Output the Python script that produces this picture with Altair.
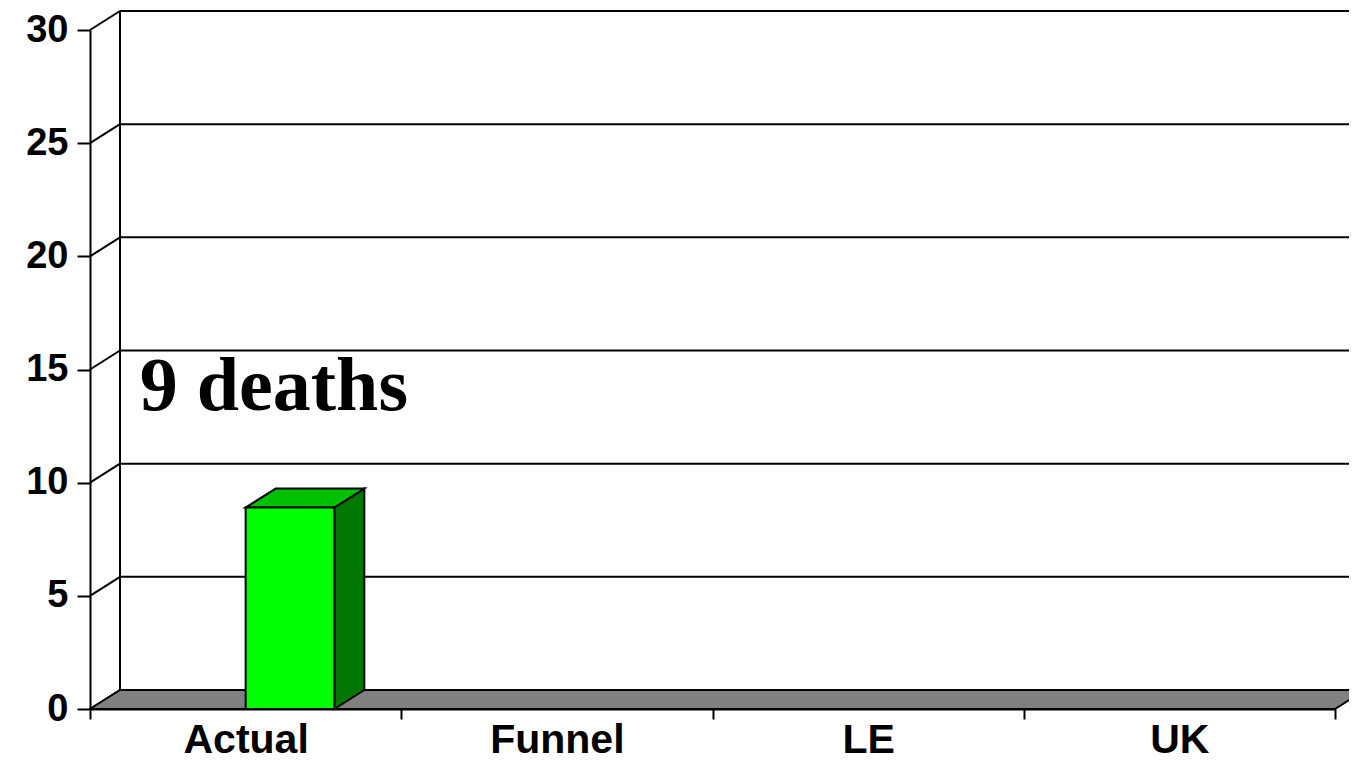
import altair as alt
import pandas as pd

# ---- data ----
categories = ["Actual", "Funnel", "LE", "UK"]
values = [8.9, 0, 0, 0]
y_ticks = [0, 5, 10, 15, 20, 25, 30]
annotation = "9 deaths"
annotation_pos = (0.16, 13.2)  # in data units (category index, value)

# ---- styling constants (3-D look) ----
W, H = 1245, 679
XMAX, YMAX = len(categories), 30
DX = 30 / (W / XMAX)      # depth offset in category units
DY = 19 / (H / YMAX)      # depth offset in value units
BAR_L, BAR_R = 0.5, 0.785  # bar front face within category

xs = alt.Scale(domain=[0, XMAX], nice=False, zero=False)
ys = alt.Scale(domain=[0, YMAX], nice=False, zero=False)

label_expr = " : ".join(
    f"datum.value == {i + 0.5} ? '{c}'" for i, c in enumerate(categories)
) + " : ''"

x_axis = alt.Axis(
    values=[k * 0.5 for k in range(2 * XMAX + 1)],
    labelExpr=label_expr, grid=False, domainColor="black", domainWidth=2,
    tickColor="black", tickWidth=2, tickSize=10,
    tickOpacity={"condition": {"test": "datum.value % 1 != 0", "value": 0}, "value": 1},
    labelFont="Liberation Sans", labelFontWeight="bold", labelFontSize=41,
    labelColor="black", labelPadding=1, labelOverlap=False, labelFlush=False,
    title=None)
y_axis = alt.Axis(
    values=y_ticks, grid=False, domainColor="black", domainWidth=2,
    tickColor="black", tickWidth=2, tickSize=13,
    labelFont="Liberation Sans", labelFontWeight="bold", labelFontSize=38,
    labelColor="black", labelPadding=9, labelOverlap=False, labelFlush=False,
    title=None)


def X(f):
    return alt.X(f, scale=xs, axis=x_axis, title=None)


def Y(f):
    return alt.Y(f, scale=ys, axis=y_axis, title=None)


# back wall gridlines
grid_df = pd.DataFrame({"x": [DX] * len(y_ticks), "x2": [XMAX + DX] * len(y_ticks),
                        "y": [v + DY for v in y_ticks]})
grid = alt.Chart(grid_df).mark_rule(color="black", strokeWidth=2).encode(
    x=X("x:Q"), x2="x2:Q", y=Y("y:Q"))

# connectors from front axis to back wall
conn_df = pd.DataFrame({"x": [0] * len(y_ticks), "x2": [DX] * len(y_ticks),
                        "y": y_ticks, "y2": [v + DY for v in y_ticks]})
conn = alt.Chart(conn_df).mark_rule(color="black", strokeWidth=2).encode(
    x=X("x:Q"), x2="x2:Q", y=Y("y:Q"), y2="y2:Q")

# back left vertical line
back_df = pd.DataFrame({"x": [DX], "y": [DY], "y2": [YMAX + DY]})
back = alt.Chart(back_df).mark_rule(color="black", strokeWidth=2).encode(
    x=X("x:Q"), y=Y("y:Q"), y2="y2:Q")

# floor
floor_df = pd.DataFrame({"y": [0, DY], "xl": [0, DX], "xr": [XMAX, XMAX + DX]})
floor = alt.Chart(floor_df).mark_area(orient="horizontal", color="#808080",
                                      stroke="black", strokeWidth=2).encode(
    y=Y("y:Q"), x=X("xl:Q"), x2="xr:Q")

# bars
front_rows, top_rows, side_rows = [], [], []
for i, (c, v) in enumerate(zip(categories, values)):
    if v <= 0:
        continue
    l, r = i + BAR_L, i + BAR_R
    front_rows.append({"cat": c, "l": l, "r": r, "v": v, "z": 0.0})
    top_rows += [{"cat": c, "y": v, "xl": l, "xr": r},
                 {"cat": c, "y": v + DY, "xl": l + DX, "xr": r + DX}]
    side_rows += [{"cat": c, "x": r, "y0": 0, "y1": v},
                  {"cat": c, "x": r + DX, "y0": DY, "y1": v + DY}]

side = alt.Chart(pd.DataFrame(side_rows)).mark_area(
    orient="vertical", color="#007800", stroke="black", strokeWidth=2).encode(
    x=X("x:Q"), y=Y("y0:Q"), y2="y1:Q", detail="cat:N")

top = alt.Chart(pd.DataFrame(top_rows)).mark_area(
    orient="horizontal", color="#00C000", stroke="black", strokeWidth=2).encode(
    y=Y("y:Q"), x=X("xl:Q"), x2="xr:Q", detail="cat:N")

front = alt.Chart(pd.DataFrame(front_rows)).mark_rect(
    color="#00FF00", stroke="black", strokeWidth=2).encode(
    x=X("l:Q"), x2="r:Q", y=Y("v:Q"), y2="z:Q")

# annotation text
ann_df = pd.DataFrame({"x": [annotation_pos[0]], "y": [annotation_pos[1]], "t": [annotation]})
ann = alt.Chart(ann_df).mark_text(
    align="left", baseline="alphabetic", font="Liberation Serif",
    fontWeight="bold", fontSize=76, color="black").encode(
    x=X("x:Q"), y=Y("y:Q"), text="t:N")

chart = alt.layer(grid, back, conn, floor, side, top, front, ann).properties(
    width=W, height=H,
    autosize=alt.AutoSizeParams(type="none"),
    padding={"left": 82, "top": 22, "right": 14, "bottom": 59},
    background="white",
).configure_view(strokeWidth=0)

chart.save("out.html", embed_options={"renderer": "svg", "actions": False})
